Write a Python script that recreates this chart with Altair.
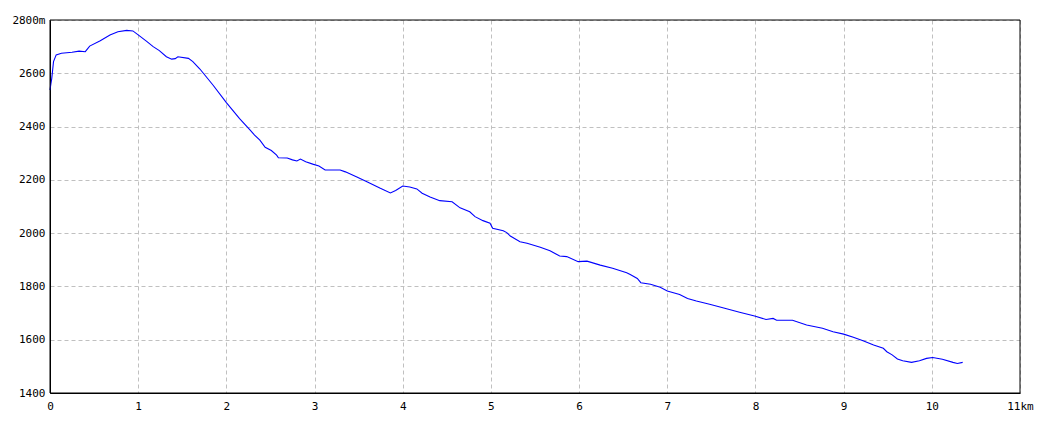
import altair as alt
import pandas as pd

distance_km = [
    0.00, 0.01, 0.02, 0.04, 0.07, 0.13, 0.25, 0.33, 0.40, 0.45, 0.57, 0.68, 0.77, 0.87, 0.94,
    1.00, 1.10, 1.17, 1.24, 1.32, 1.38, 1.42, 1.45, 1.57, 1.62, 1.70, 1.85, 2.00, 2.15, 2.27,
    2.32, 2.38, 2.44, 2.51, 2.57, 2.59, 2.69, 2.75, 2.80, 2.84, 2.90, 2.98, 3.05, 3.12, 3.29,
    3.35, 3.48, 3.60, 3.74, 3.86, 3.92, 4.00, 4.08, 4.16, 4.22, 4.31, 4.42, 4.56, 4.65, 4.76,
    4.82, 4.91, 4.99, 5.02, 5.14, 5.18, 5.22, 5.33, 5.41, 5.56, 5.67, 5.78, 5.86, 5.99, 6.09,
    6.24, 6.38, 6.54, 6.58, 6.66, 6.70, 6.81, 6.92, 7.00, 7.14, 7.23, 7.33, 7.48, 7.63, 7.82,
    7.99, 8.12, 8.20, 8.24, 8.42, 8.58, 8.76, 8.88, 9.00, 9.11, 9.22, 9.34, 9.45, 9.49, 9.55,
    9.61, 9.67, 9.77, 9.86, 9.94, 10.01, 10.12, 10.24, 10.29, 10.35,
]
elevation_m = [
    2537, 2560, 2581, 2644, 2669, 2675, 2679, 2683, 2681, 2702, 2722, 2744, 2756, 2761, 2759,
    2744, 2719, 2700, 2685, 2662, 2653, 2655, 2662, 2656, 2644, 2616, 2555, 2490, 2430, 2387,
    2368, 2349, 2322, 2310, 2293, 2283, 2282, 2275, 2271, 2278, 2268, 2259, 2252, 2237, 2237,
    2230, 2211, 2192, 2169, 2151, 2160, 2177, 2173, 2166, 2150, 2136, 2122, 2118, 2095, 2080,
    2062, 2047, 2037, 2018, 2009, 2002, 1989, 1968, 1962, 1947, 1934, 1914, 1912, 1893, 1895,
    1880, 1868, 1851, 1845, 1830, 1814, 1808, 1797, 1783, 1770, 1755, 1745, 1733, 1720, 1703,
    1689, 1676, 1680, 1673, 1673, 1655, 1643, 1630, 1621, 1609, 1596, 1580, 1568, 1555, 1543,
    1528, 1521, 1515, 1521, 1530, 1533, 1527, 1515, 1511, 1515,
]

x_ticks = list(range(0, 12))
y_ticks = list(range(1400, 2801, 200))

df = pd.DataFrame({"km": distance_km, "m": elevation_m})

FONT = "DejaVu Sans Mono"
W, H = 970, 373

line = (
    alt.Chart(df)
    .mark_line(color="#0000ff", strokeWidth=1.1)
    .encode(
        x=alt.X(
            "km:Q",
            scale=alt.Scale(domain=[0, 11], nice=False, zero=False),
            axis=alt.Axis(
                values=x_ticks,
                title=None,
                ticks=False,
                labelPadding=7,
                labelFlush=False,
                labelOverlap=False,
                labelExpr="datum.value == 11 ? '11km' : datum.label",
            ),
        ),
        y=alt.Y(
            "m:Q",
            scale=alt.Scale(domain=[1400, 2800], nice=False, zero=False),
            axis=alt.Axis(
                values=y_ticks,
                title=None,
                ticks=False,
                labelPadding=5,
                labelFlush=False,
                labelOverlap=False,
                labelExpr="datum.value == 2800 ? '2800m' : datum.value",
            ),
        ),
    )
)

frame = (
    alt.Chart(pd.DataFrame({"f": [0]}))
    .mark_rect(filled=False, stroke="black", strokeWidth=1)
    .encode(
        x=alt.value(0),
        x2=alt.value(W),
        y=alt.value(0),
        y2=alt.value(H),
    )
)

chart = (
    alt.layer(line, frame)
    .properties(
        width=W,
        height=H,
        autosize=alt.AutoSizeParams(type="none"),
        padding={"left": 42, "top": 12, "right": 30, "bottom": 22},
    )
    .configure_view(stroke=None)
    .configure_axis(
        domainColor="black",
        domainWidth=1,
        gridColor="#c0c0c0",
        gridDash=[4, 3],
        gridWidth=1,
        labelFont=FONT,
        labelFontSize=11,
        labelColor="black",
    )
)

chart.save("out.html", embed_options={"renderer": "svg", "actions": False})
